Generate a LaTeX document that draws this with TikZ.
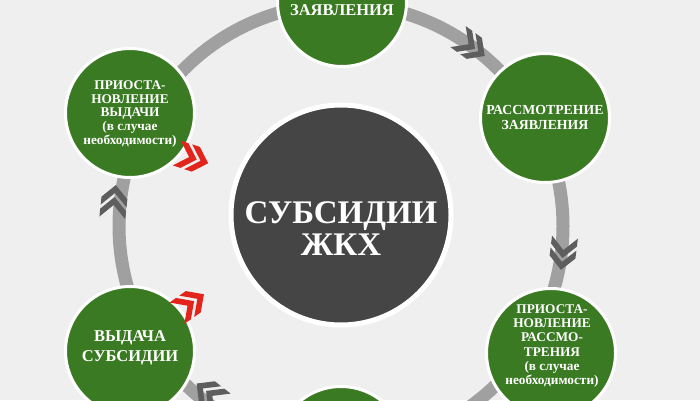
\documentclass[tikz,border=0pt]{standalone}
\usepackage{fontspec}
\setmainfont{Liberation Serif}
\definecolor{bg}{HTML}{EFEFEF}
\definecolor{ringgray}{HTML}{A0A0A0}
\definecolor{chevgray}{HTML}{5E5E5E}
\definecolor{leaf}{HTML}{3A7A22}
\definecolor{core}{HTML}{454545}
\definecolor{alert}{HTML}{E3241B}
\tikzset{
  chevron/.pic={
    \fill (-16,13) -- (-8,13) -- (5,0) -- (-8,-13) -- (-16,-13) -- (-3,0) -- cycle;
    \fill (-4,13) -- (4,13) -- (17,0) -- (4,-13) -- (-4,-13) -- (9,0) -- cycle;
  }
}
\begin{document}
\begin{tikzpicture}[x=1pt,y=1pt,
  stage/.style={circle,fill=leaf,draw=white,line width=3pt,minimum size=129pt,inner sep=0pt},
  stagetext/.style={text=white,align=center,inner sep=0pt},
  ringline/.style={draw=ringgray,line width=13pt}]
\useasboundingbox (0,0) rectangle (700,400);
\clip (0,0) rectangle (700,400);
\fill[bg] (0,0) rectangle (700,400);
% ring
\coordinate (ringc) at (341,174);
\draw[ringline] (ringc) circle[radius=222];
% gray chevrons on the ring
\pic[fill=chevgray,rotate=-36] at (471,354) {chevron};
\pic[fill=chevgray,rotate=-97] at (563,147) {chevron};
\pic[fill=chevgray,rotate=142] at (210,6) {chevron};
\pic[fill=chevgray,rotate=84] at (114,198) {chevron};
% stage circles
\node[stage] (top) at (342,398) {};
\node[stage] (ru) at (545,282) {};
\node[stage] (rl) at (551,47) {};
\node[stage] (bot) at (341,-51) {};
\node[stage] (ll) at (130,49) {};
\node[stage] (lu) at (130,287) {};
% centre
\node[circle,fill=core,draw=white,line width=5pt,minimum size=220pt,inner sep=0pt] (core) at (341,185) {};
% texts
\node[stagetext,font=\bfseries\fontsize{16.5}{18}\selectfont] (topt) at (342,390) {ЗАЯВЛЕНИЯ};
\node[stagetext,font=\bfseries\fontsize{13.8}{15}\selectfont] (rut) at (545,283) {РАССМОТРЕНИЕ\\ЗАЯВЛЕНИЯ};
\node[stagetext,font=\bfseries\fontsize{13.3}{14.2}\selectfont] (rlt) at (552,54) {ПРИОСТА-\\НОВЛЕНИЕ\\РАССМО-\\ТРЕНИЯ\\(в случае\\необходимости)};
\node[stagetext,font=\bfseries\fontsize{13.3}{13.8}\selectfont] (lut) at (130,286) {ПРИОСТА-\\НОВЛЕНИЕ\\ВЫДАЧИ\\(в случае\\необходимости)};
\node[stagetext,font=\bfseries\fontsize{16.5}{20}\selectfont] (llt) at (130,52) {ВЫДАЧА\\СУБСИДИИ};
\node[stagetext,font=\bfseries\fontsize{33}{32}\selectfont] (coret) at (341,171) {СУБСИДИИ\\ЖКХ};
% red chevrons
\pic[fill=alert,rotate=-18] at (192,242) {chevron};
\pic[fill=alert,rotate=35] at (190,96) {chevron};
\end{tikzpicture}
\end{document}
